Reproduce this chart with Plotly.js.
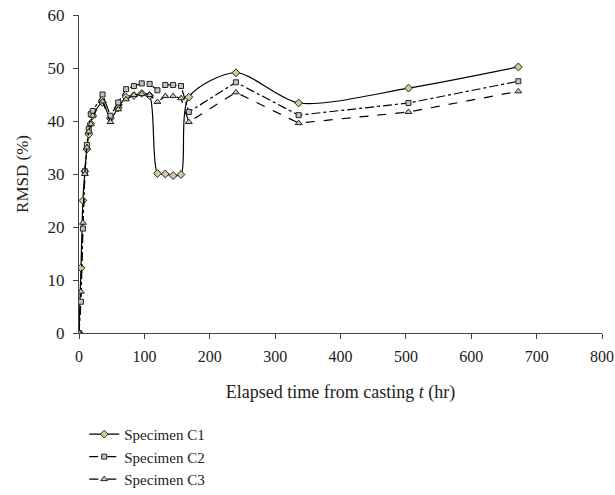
<!DOCTYPE html>
<html>
<head>
<meta charset="utf-8">
<script src="https://cdn.plot.ly/plotly-3.0.1.min.js"></script>
<style>html,body{margin:0;padding:0;background:#fff;}#chart{width:615px;height:495px;}</style>
</head>
<body>
<div id="chart"></div>
<script>
// Elapsed time (hr)
var hours = [0, 3, 6, 9, 12, 15, 18, 21, 36, 48, 60, 72, 84, 96, 108, 120, 132, 144, 156, 168, 240, 336, 504, 672];
var seriesNames = ["Specimen C1", "Specimen C2", "Specimen C3"];
var rmsdC1 = [0, 12.3, 25, 30.5, 34.7, 37.5, 39.5, 41, 43.5, 40.5, 42.5, 44.5, 44.8, 45.2, 44.8, 30.1, 30.0, 29.7, 29.9, 44.5, 49.1, 43.4, 46.2, 50.2];
var rmsdC2 = [0, 5.9, 19.7, 30.5, 35.5, 38.5, 41.3, 41.9, 45.0, 41.0, 43.5, 46.0, 46.6, 47.1, 47.0, 45.8, 46.8, 46.8, 46.6, 41.7, 47.3, 41.1, 43.4, 47.5];
var rmsdC3 = [0, 7.8, 20.8, 30.0, 35.0, 38.0, 39.4, 41.0, 43.7, 39.8, 42.2, 44.1, 44.9, 45.1, 44.9, 43.6, 44.7, 44.7, 44.3, 39.8, 45.4, 39.6, 41.7, 45.6];
var xTicks = [0, 100, 200, 300, 400, 500, 600, 700, 800];
var yTicks = [0, 10, 20, 30, 40, 50, 60];

var serif = "Liberation Serif, DejaVu Serif, serif";
var traces = [
  {x: hours, y: rmsdC1, name: seriesNames[0], mode: "lines+markers",
   line: {color: "#000", width: 1.2, dash: "solid", shape: "spline", smoothing: 0.8},
   marker: {symbol: "diamond", size: 6, color: "#d4c99c", line: {color: "#222", width: 1}}},
  {x: hours, y: rmsdC2, name: seriesNames[1], mode: "lines+markers",
   line: {color: "#000", width: 1.2, dash: "dashdot"},
   marker: {symbol: "square", size: 5, color: "#c4c4c4", line: {color: "#222", width: 1}}},
  {x: hours, y: rmsdC3, name: seriesNames[2], mode: "lines+markers",
   line: {color: "#000", width: 1.2, dash: "dash"},
   marker: {symbol: "triangle-up", size: 6, color: "#d4c99c", line: {color: "#222", width: 1}}}
];

var layout = {
  width: 615, height: 495,
  margin: {l: 79, r: 13, t: 15, b: 162, autoexpand: false},
  paper_bgcolor: "#fff", plot_bgcolor: "#fff",
  font: {family: serif, size: 17, color: "#222"},
  showlegend: true,
  legend: {x: 0.01, xanchor: "left", y: -0.267, yanchor: "top", orientation: "v",
           font: {family: serif, size: 15, color: "#222"}, bgcolor: "rgba(0,0,0,0)", tracegroupgap: 0},
  xaxis: {range: [0, 800], tickvals: xTicks, ticktext: xTicks.map(String), showgrid: false, zeroline: false,
          showline: true, linecolor: "#444", linewidth: 1, ticks: "outside", ticklen: 5, tickcolor: "#444",
          ticklabelstandoff: 4,
          tickfont: {family: serif, size: 16, color: "#222"},
          title: {text: "Elapsed time from casting <i>t</i> (hr)", font: {family: serif, size: 18, color: "#222"}, standoff: 21}},
  yaxis: {range: [0, 60], tickvals: yTicks, ticktext: yTicks.map(String), showgrid: false, zeroline: false,
          showline: true, linecolor: "#444", linewidth: 1, ticks: "outside", ticklen: 5, tickcolor: "#444",
          ticklabelstandoff: 5,
          tickfont: {family: serif, size: 17, color: "#222"},
          title: {text: "RMSD (%)", font: {family: serif, size: 17, color: "#222"}, standoff: 14}}
};

Plotly.newPlot("chart", traces, layout, {displayModeBar: false, staticPlot: true});
</script>
</body>
</html>
